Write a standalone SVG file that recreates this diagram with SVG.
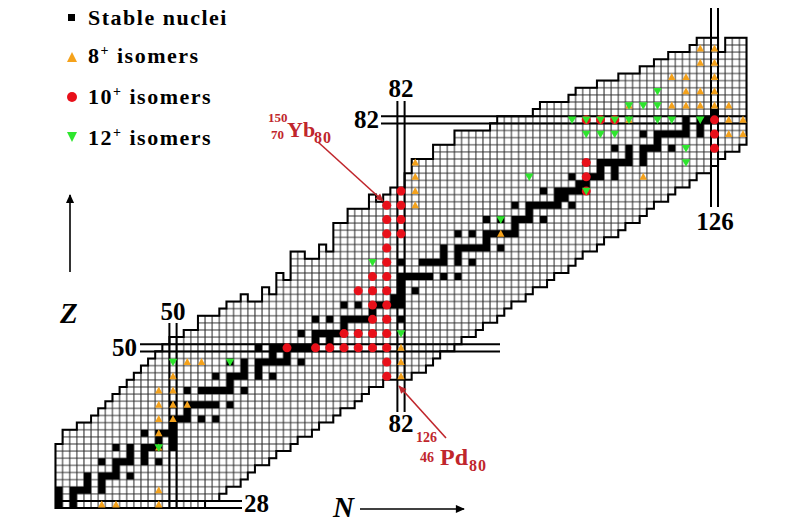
<svg xmlns="http://www.w3.org/2000/svg" width="800" height="524" viewBox="0 0 800 524">
<style>
text{font-family:"Liberation Serif","Times New Roman",serif;font-weight:bold}
.mag{font-size:25px;fill:#000}
.leg{font-size:22px;letter-spacing:1.5px;fill:#000}
.iso{fill:#c0262c}
.ml{stroke:#000;stroke-width:2;fill:none}
.o{fill:#f5a21b}
.r{fill:#e8101a}
.g{fill:#2ee62e}
</style>
<defs>
<pattern id="grid" patternUnits="userSpaceOnUse" x="0.5" y="0.5" width="1" height="1">
<rect width="1" height="1" fill="#fff"/>
<path d="M0 0H1M0 1H1M0 0V1M1 0V1" stroke="#262626" stroke-width="0.14" fill="none"/>
</pattern>
<path id="tu" class="o" d="M-0.52 -0.42H0.52L0 0.58Z"/>
<path id="td" class="g" d="M-0.6 0.45H0.6L0 -0.58Z"/>
<circle id="rc" class="r" r="0.63"/>
<marker id="ahr" viewBox="0 0 10 10" refX="9" refY="5" markerWidth="11" markerHeight="8" markerUnits="userSpaceOnUse" orient="auto"><path d="M0 0.5L10 5L0 9.5z" fill="#c0262c"/></marker>
<marker id="ahk" viewBox="0 0 10 10" refX="9" refY="5" markerWidth="12" markerHeight="9" markerUnits="userSpaceOnUse" orient="auto"><path d="M0 0.5L10 5L0 9.5z" fill="#000"/></marker>
</defs>

<g id="legend">
<rect x="68" y="14" width="7" height="7" fill="#000"/>
<text class="leg" x="88" y="25">Stable nuclei</text>
<path class="o" d="M67 62H77L72 52Z"/>
<text class="leg" x="88" y="63">8<tspan dy="-8" font-size="14">+</tspan><tspan dy="8"> isomers</tspan></text>
<circle class="r" cx="72" cy="97" r="5"/>
<text class="leg" x="88" y="104">10<tspan dy="-8" font-size="14">+</tspan><tspan dy="8"> isomers</tspan></text>
<path class="g" d="M67 132H77L72 142Z"/>
<text class="leg" x="88" y="145">12<tspan dy="-8" font-size="14">+</tspan><tspan dy="8"> isomers</tspan></text>
</g>

<g id="chart" transform="matrix(7.125 0 0 -7.125 -183.25 704.05)">
<path id="region" fill="url(#grid)" stroke="#000" stroke-width="2" vector-effect="non-scaling-stroke" d="M33.5 27.5V36.5H34.5V38.5H36.5V39.5H38.5V40.5H39.5V41.5H40.5V42.5H41.5V43.5H42.5V44.5H43.5V45.5H44.5V46.5H45.5V47.5H46.5V48.5H47.5V49.5H48.5V50.5H49.5V51.5H51.5V52.5H53.5V54.5H56.5V55.5H57.5V56.5H59.5V57.5H60.5V56.5H62.5V58.5H63.5V57.5H64.5V60.5H65.5V59.5H66.5V63.5H68.5V62.5H70.5V64.5H71.5V63.5H72.5V67.5H74.5V69.5H77.5V71.5H78.5V70.5H79.5V71.5H80.5V72.5H82.5V74.5H83.5V76.5H86.5V78.5H89.5V80.5H94.5V81.5H95.5V82.5H100.5V83.5H101.5V84.5H105.5V85.5H106.5V86.5H109.5V87.5H112.5V88.5H115.5V89.5H117.5V90.5H119.5V91.5H122.5V92.5H123.5V93.5H126.5V91.5H127.5V93.5H130.5V78.5H129.5V77.5H127.5V76.5H126.5V75.5H125.5V74.5H123.5V73.5H122.5V72.5H120.5V71.5H119.5V70.5H117.5V69.5H116.5V68.5H115.5V67.5H113.5V66.5H112.5V65.5H110.5V64.5H109.5V63.5H107.5V62.5H106.5V61.5H105.5V60.5H103.5V59.5H102.5V58.5H100.5V57.5H99.5V56.5H97.5V55.5H96.5V54.5H95.5V53.5H93.5V52.5H92.5V51.5H90.5V50.5H89.5V49.5H87.5V48.5H86.5V47.5H85.5V46.5H83.5V45.5H79.5V44.5H77.5V43.5H76.5V42.5H75.5V41.5H73.5V40.5H72.5V39.5H70.5V38.5H69.5V37.5H67.5V36.5H66.5V35.5H64.5V34.5H63.5V33.5H61.5V32.5H60.5V31.5H59.5V30.5H57.5V29.5H56.5V28.5H54.5V27.5Z"/>
<path id="stable" transform="translate(-0.5 -0.5)" fill="#000" d="M34 28h1v1h-1zM36 28h1v1h-1zM34 29h1v1h-1zM36 29h1v1h-1zM34 30h1v1h-1zM36 30h3v1h-3zM40 30h1v1h-1zM38 31h1v1h-1zM40 31h1v1h-1zM38 32h1v1h-1zM40 32h3v1h-3zM44 32h1v1h-1zM42 33h1v1h-1zM40 34h1v1h-1zM42 34h3v1h-3zM46 34h1v1h-1zM48 34h1v1h-1zM44 35h1v1h-1zM46 35h1v1h-1zM42 36h1v1h-1zM44 36h1v1h-1zM46 36h3v1h-3zM50 36h1v1h-1zM48 37h1v1h-1zM50 37h1v1h-1zM46 38h1v1h-1zM48 38h3v1h-3zM50 39h1v1h-1zM50 40h3v1h-3zM54 40h1v1h-1zM56 40h1v1h-1zM52 41h1v1h-1zM50 42h1v1h-1zM52 42h5v1h-5zM58 42h1v1h-1zM52 44h1v1h-1zM54 44h5v1h-5zM60 44h1v1h-1zM58 45h1v1h-1zM56 46h1v1h-1zM58 46h3v1h-3zM62 46h1v1h-1zM64 46h1v1h-1zM60 47h1v1h-1zM62 47h1v1h-1zM58 48h1v1h-1zM60 48h1v1h-1zM62 48h5v1h-5zM68 48h1v1h-1zM64 49h1v1h-1zM66 49h1v1h-1zM62 50h1v1h-1zM64 50h7v1h-7zM72 50h1v1h-1zM74 50h1v1h-1zM70 51h1v1h-1zM72 51h1v1h-1zM68 52h1v1h-1zM70 52h5v1h-5zM76 52h1v1h-1zM78 52h1v1h-1zM74 53h1v1h-1zM70 54h1v1h-1zM72 54h1v1h-1zM74 54h5v1h-5zM80 54h1v1h-1zM82 54h1v1h-1zM78 55h1v1h-1zM74 56h1v1h-1zM76 56h1v1h-1zM78 56h5v1h-5zM81 57h2v1h-2zM78 58h1v1h-1zM80 58h1v1h-1zM82 58h1v1h-1zM84 58h1v1h-1zM82 59h1v1h-1zM82 60h5v1h-5zM88 60h1v1h-1zM90 60h1v1h-1zM82 62h1v1h-1zM85 62h4v1h-4zM90 62h1v1h-1zM92 62h1v1h-1zM88 63h1v1h-1zM90 63h1v1h-1zM88 64h1v1h-1zM90 64h5v1h-5zM96 64h1v1h-1zM94 65h1v1h-1zM90 66h1v1h-1zM92 66h1v1h-1zM94 66h5v1h-5zM98 67h1v1h-1zM94 68h1v1h-1zM96 68h1v1h-1zM98 68h3v1h-3zM102 68h1v1h-1zM100 69h1v1h-1zM98 70h1v1h-1zM100 70h5v1h-5zM106 70h1v1h-1zM104 71h2v1h-2zM102 72h1v1h-1zM104 72h5v1h-5zM107 73h2v1h-2zM106 74h1v1h-1zM108 74h3v1h-3zM112 74h1v1h-1zM110 75h1v1h-1zM112 75h1v1h-1zM108 76h1v1h-1zM110 76h5v1h-5zM116 76h1v1h-1zM114 77h1v1h-1zM116 77h1v1h-1zM112 78h1v1h-1zM114 78h1v1h-1zM116 78h3v1h-3zM120 78h1v1h-1zM118 79h1v1h-1zM116 80h1v1h-1zM118 80h5v1h-5zM124 80h1v1h-1zM122 81h1v1h-1zM124 81h1v1h-1zM122 82h1v1h-1zM124 82h3v1h-3zM126 83h1v1h-1z"/>
</g>

<g id="magic-lines">
<path class="ml" d="M55 501H242M55 508.1H242M140 344.2H500M140 351.4H500M381 116.2H747M381 123.4H747M169.4 323V508M176.6 323V508M397.4 101V412M404.6 101V412M711 8V207M718 8V207"/>
</g>

<g id="isomers" transform="matrix(7.125 0 0 -7.125 -183.25 704.05)">
<g id="iso8">
<use href="#tu" x="40" y="28"/><use href="#tu" x="42" y="28"/><use href="#tu" x="48" y="28"/><use href="#tu" x="48" y="30"/><use href="#tu" x="48" y="36"/><use href="#tu" x="48" y="38"/><use href="#tu" x="48" y="40"/><use href="#tu" x="48" y="42"/><use href="#tu" x="48" y="44"/><use href="#tu" x="50" y="40"/><use href="#tu" x="50" y="42"/><use href="#tu" x="50" y="44"/><use href="#tu" x="50" y="46"/><use href="#tu" x="52" y="42"/><use href="#tu" x="52" y="48"/><use href="#tu" x="54" y="48"/><use href="#tu" x="82" y="46"/><use href="#tu" x="82" y="48"/><use href="#tu" x="82" y="50"/><use href="#tu" x="84" y="70"/><use href="#tu" x="84" y="72"/><use href="#tu" x="84" y="74"/><use href="#tu" x="84" y="76"/><use href="#tu" x="96" y="66"/><use href="#tu" x="114" y="82"/><use href="#tu" x="114" y="84"/><use href="#tu" x="116" y="74"/><use href="#tu" x="120" y="84"/><use href="#tu" x="122" y="84"/><use href="#tu" x="124" y="84"/><use href="#tu" x="126" y="84"/><use href="#tu" x="128" y="84"/><use href="#tu" x="122" y="86"/><use href="#tu" x="124" y="86"/><use href="#tu" x="126" y="86"/><use href="#tu" x="120" y="88"/><use href="#tu" x="122" y="88"/><use href="#tu" x="126" y="88"/><use href="#tu" x="124" y="90"/><use href="#tu" x="126" y="90"/><use href="#tu" x="124" y="92"/><use href="#tu" x="126" y="92"/><use href="#tu" x="128" y="82"/><use href="#tu" x="130" y="82"/><use href="#tu" x="128" y="80"/><use href="#tu" x="130" y="80"/>
</g>
<g id="iso10">
<use href="#rc" x="66" y="50"/><use href="#rc" x="70" y="50"/><use href="#rc" x="72" y="50"/><use href="#rc" x="74" y="50"/><use href="#rc" x="74" y="52"/><use href="#rc" x="76" y="50"/><use href="#rc" x="76" y="52"/><use href="#rc" x="76" y="58"/><use href="#rc" x="78" y="50"/><use href="#rc" x="78" y="52"/><use href="#rc" x="78" y="54"/><use href="#rc" x="78" y="56"/><use href="#rc" x="78" y="58"/><use href="#rc" x="78" y="60"/><use href="#rc" x="80" y="46"/><use href="#rc" x="80" y="48"/><use href="#rc" x="80" y="50"/><use href="#rc" x="80" y="52"/><use href="#rc" x="80" y="54"/><use href="#rc" x="80" y="56"/><use href="#rc" x="80" y="58"/><use href="#rc" x="80" y="60"/><use href="#rc" x="80" y="62"/><use href="#rc" x="80" y="64"/><use href="#rc" x="80" y="66"/><use href="#rc" x="80" y="68"/><use href="#rc" x="80" y="70"/><use href="#rc" x="82" y="66"/><use href="#rc" x="82" y="68"/><use href="#rc" x="82" y="70"/><use href="#rc" x="82" y="72"/><use href="#rc" x="108" y="72"/><use href="#rc" x="108" y="74"/><use href="#rc" x="108" y="76"/><use href="#rc" x="108" y="82"/><use href="#rc" x="110" y="82"/><use href="#rc" x="112" y="82"/><use href="#rc" x="126" y="78"/><use href="#rc" x="126" y="80"/><use href="#rc" x="126" y="82"/>
</g>
<g id="iso12">
<use href="#td" x="48" y="36"/><use href="#td" x="50" y="48"/><use href="#td" x="58" y="48"/><use href="#td" x="78" y="62"/><use href="#td" x="82" y="52"/><use href="#td" x="96" y="68"/><use href="#td" x="100" y="74"/><use href="#td" x="108" y="72"/><use href="#td" x="106" y="82"/><use href="#td" x="108" y="82"/><use href="#td" x="110" y="82"/><use href="#td" x="112" y="82"/><use href="#td" x="114" y="82"/><use href="#td" x="118" y="82"/><use href="#td" x="120" y="82"/><use href="#td" x="124" y="82"/><use href="#td" x="108" y="80"/><use href="#td" x="110" y="80"/><use href="#td" x="112" y="80"/><use href="#td" x="114" y="84"/><use href="#td" x="116" y="84"/><use href="#td" x="118" y="84"/><use href="#td" x="118" y="86"/><use href="#td" x="122" y="76"/><use href="#td" x="122" y="78"/>
</g>
</g>

<g id="magic-labels">
<text class="mag" x="173" y="320" text-anchor="middle">50</text>
<text class="mag" x="137" y="356" text-anchor="end">50</text>
<text class="mag" x="401" y="97" text-anchor="middle">82</text>
<text class="mag" x="379" y="128" text-anchor="end">82</text>
<text class="mag" x="401" y="432" text-anchor="middle">82</text>
<text class="mag" x="715" y="230" text-anchor="middle">126</text>
<text class="mag" x="244" y="512">28</text>
</g>

<g id="connectors">
<line x1="318" y1="142" x2="383" y2="201" stroke="#c0262c" stroke-width="1.6" marker-end="url(#ahr)"/>
<line x1="446" y1="438" x2="399" y2="386" stroke="#c0262c" stroke-width="1.6" marker-end="url(#ahr)"/>
<line x1="70" y1="272" x2="70" y2="195" stroke="#000" stroke-width="1.6" marker-end="url(#ahk)"/>
<line x1="360" y1="509" x2="464" y2="509" stroke="#000" stroke-width="1.6" marker-end="url(#ahk)"/>
</g>

<g id="label-yb" class="iso">
<text x="268" y="122" font-size="13">150</text>
<text x="271" y="139" font-size="13">70</text>
<text x="287" y="137" font-size="22">Yb</text>
<text x="314" y="143" font-size="16" letter-spacing="1">80</text>
</g>
<g id="label-pd" class="iso">
<text x="416" y="442" font-size="14">126</text>
<text x="420" y="462" font-size="14">46</text>
<text x="440" y="465" font-size="24">Pd</text>
<text x="469" y="471" font-size="16" letter-spacing="1">80</text>
</g>

<g id="axis-labels">
<text x="60" y="323" font-size="29" font-style="italic">Z</text>
<text x="333" y="517" font-size="29" font-style="italic">N</text>
</g>
</svg>
